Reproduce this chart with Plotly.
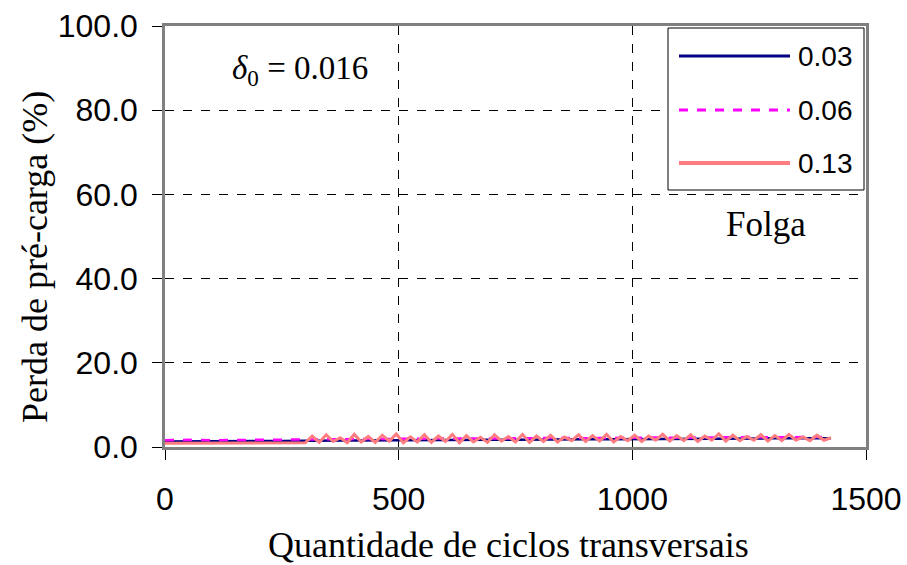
import plotly.graph_objects as go

# ---- data ----
blue_x = [0, 50, 100, 150, 200, 250, 300, 350, 400, 450, 500, 550, 600, 650, 700,
          750, 800, 850, 900, 950, 1000, 1050, 1100, 1150, 1200, 1250, 1300, 1350, 1400, 1425]
blue_y = [1.3, 1.3, 1.35, 1.35, 1.4, 1.45, 1.5, 1.55, 1.5, 1.6, 1.6, 1.65, 1.7, 1.7, 1.75,
          1.7, 1.8, 1.8, 1.85, 1.85, 1.9, 1.9, 1.95, 1.9, 2.0, 2.0, 2.05, 2.05, 2.1, 2.1]

pink_x = [0, 50, 100, 150, 200, 250, 300, 350, 400, 450, 500, 550, 600, 650, 700,
          750, 800, 850, 900, 950, 1000, 1050, 1100, 1150, 1200, 1250, 1300, 1350, 1400, 1425]
pink_y = [1.6, 1.7, 1.6, 1.7, 1.7, 1.75, 1.8, 1.85, 1.9, 1.85, 1.9, 2.0, 2.0, 2.05, 2.0,
          2.1, 2.1, 2.15, 2.1, 2.2, 2.2, 2.25, 2.2, 2.3, 2.3, 2.35, 2.3, 2.4, 2.35, 2.4]

salmon_x = [0, 100, 200, 285, 300, 315, 330, 345, 360, 375, 390, 405, 420, 435, 450,
            465, 480, 495, 510, 525, 540, 555, 570, 585, 600, 615, 630, 645, 660, 675,
            690, 705, 720, 735, 750, 765, 780, 795, 810, 825, 840, 855, 870, 885, 900,
            915, 930, 945, 960, 975, 990, 1005, 1020, 1035, 1050, 1065, 1080, 1095, 1110, 1125,
            1140, 1155, 1170, 1185, 1200, 1215, 1230, 1245, 1260, 1275, 1290, 1305, 1320, 1335, 1350,
            1365, 1380, 1395, 1410, 1425]
salmon_y = [0.9, 0.9, 0.95, 1.0, 1.0, 2.6, 1.1, 2.9, 1.3, 2.2, 1.0, 3.0, 1.2, 2.5,
            1.1, 2.8, 1.4, 3.1, 1.0, 2.4, 1.2, 2.9, 1.1, 2.6,
            1.3, 3.0, 1.0, 2.7, 1.2, 2.3, 1.1, 2.9, 1.4, 2.5,
            1.2, 3.0, 1.1, 2.6, 1.3, 2.8, 1.2, 2.4, 1.5, 2.9,
            1.3, 2.7, 1.4, 3.0, 1.2, 2.5, 1.5, 2.8, 1.3, 2.6,
            1.6, 3.0, 1.4, 2.7, 1.5, 2.9, 1.3, 2.6, 1.6, 3.1,
            1.4, 2.8, 1.5, 2.5, 1.6, 2.9, 1.4, 2.7, 1.5, 3.0,
            1.6, 2.4, 1.5, 2.8, 1.6, 2.2]

legend_labels = ["0.03", "0.06", "0.13"]
x_ticks = [0, 500, 1000, 1500]
y_ticks = [0, 20, 40, 60, 80, 100]

BLUE = "#000080"
PINK = "#FF00FF"
SALMON = "#FF7C80"

fig = go.Figure()
fig.add_trace(go.Scatter(x=blue_x, y=blue_y, mode="lines", name=legend_labels[0],
                         line=dict(color=BLUE, width=2.5)))
fig.add_trace(go.Scatter(x=pink_x, y=pink_y, mode="lines", name=legend_labels[1],
                         line=dict(color=PINK, width=2.5, dash="dash")))
fig.add_trace(go.Scatter(x=salmon_x, y=salmon_y, mode="lines", name=legend_labels[2],
                         line=dict(color=SALMON, width=3)))

W, H = 907, 565
L, R, T, B = 165, 41, 26, 118
pw, ph = W - L - R, H - T - B

def px(x):
    return (x - L) / pw

def py(y):
    return (H - B - y) / ph

tickfont = dict(family="Liberation Sans, Arial", size=32, color="black")
serif = "Liberation Serif, Times New Roman"

fig.update_layout(
    width=W, height=H,
    margin=dict(l=L, r=R, t=T, b=B),
    plot_bgcolor="white", paper_bgcolor="white",
    showlegend=False,
    xaxis=dict(range=[0, 1500], tickvals=x_ticks, ticktext=[str(v) for v in x_ticks],
               showline=True, linecolor="#808080", linewidth=2.5, mirror=True,
               ticks="outside", ticklen=10, tickcolor="black", tickwidth=1,
               showgrid=True, gridcolor="black", griddash="dash", gridwidth=1,
               zeroline=False, tickfont=tickfont, ticklabelstandoff=12, automargin=False),
    yaxis=dict(range=[0, 100], tickvals=y_ticks, ticktext=["%.1f" % v for v in y_ticks],
               showline=True, linecolor="#808080", linewidth=2.5, mirror=True,
               ticks="outside", ticklen=10, tickcolor="black", tickwidth=1,
               showgrid=True, gridcolor="black", griddash="dash", gridwidth=1,
               zeroline=False, tickfont=tickfont, ticklabelstandoff=8, automargin=False),
)

# manual legend box
fig.add_shape(type="rect", xref="paper", yref="paper",
              x0=px(668), x1=px(864), y0=py(190), y1=py(28),
              fillcolor="white", line=dict(color="black", width=1), layer="above")
leg_rows = [56, 110, 163]
leg_styles = [dict(color=BLUE, width=3), dict(color=PINK, width=3, dash="dash"),
              dict(color=SALMON, width=4)]
for yy, st, lab in zip(leg_rows, leg_styles, legend_labels):
    fig.add_shape(type="line", xref="paper", yref="paper",
                  x0=px(679), x1=px(790), y0=py(yy), y1=py(yy), line=st, layer="above")
    fig.add_annotation(x=px(796), y=py(yy), xref="paper", yref="paper", text=lab,
                       showarrow=False, xanchor="left", yanchor="middle",
                       font=dict(family="Liberation Sans, Arial", size=28, color="black"))

fig.add_annotation(x=px(766), y=py(224), xref="paper", yref="paper", text="Folga",
                   showarrow=False, xanchor="center", yanchor="middle",
                   font=dict(family=serif, size=35, color="black"))
fig.add_annotation(x=px(300), y=py(70), xref="paper", yref="paper",
                   text="<i>δ</i><sub>0</sub> = 0.016",
                   showarrow=False, xanchor="center", yanchor="middle",
                   font=dict(family=serif, size=33, color="black"))

# axis titles
fig.add_annotation(x=px(35), y=py(257), xref="paper", yref="paper",
                   text="Perda de pré-carga (%)", textangle=-90,
                   showarrow=False, xanchor="center", yanchor="middle",
                   font=dict(family=serif, size=36, color="black"))
fig.add_annotation(x=px(508), y=py(545), xref="paper", yref="paper",
                   text="Quantidade de ciclos transversais",
                   showarrow=False, xanchor="center", yanchor="middle",
                   font=dict(family=serif, size=36, color="black"))

fig.write_html("out.html",
               config={"displayModeBar": False, "responsive": False},
               post_script="document.body.style.margin='0';document.body.style.overflow='hidden';")
